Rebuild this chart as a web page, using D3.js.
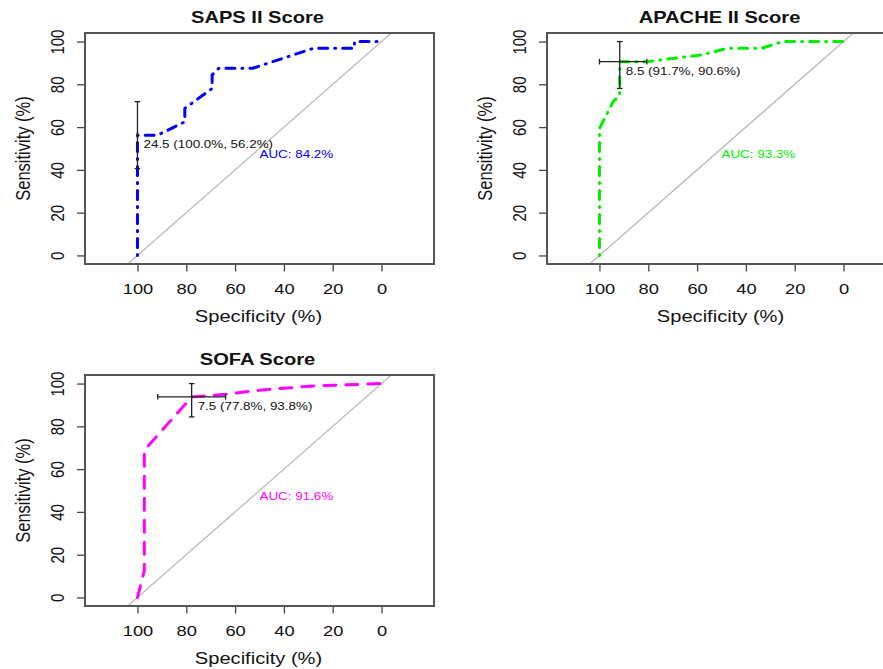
<!DOCTYPE html>
<html>
<head>
<meta charset="utf-8">
<script src="https://cdn.jsdelivr.net/npm/d3@7"></script>
<style>
  body { margin: 0; background: #fff; }
  svg text { font-family: "Liberation Sans", Arial, Helvetica, sans-serif; fill: #111; }
</style>
</head>
<body>
<svg id="chart" width="883" height="669"></svg>
<script>
// ROC panels, values (specificity %, sensitivity %)
const titles = ["SAPS II Score", "APACHE II Score", "SOFA Score"];
const specTicks = [100, 80, 60, 40, 20, 0];
const sensTicks = [0, 20, 40, 60, 80, 100];

const sapsRoc = [[100, 0], [100, 56.25], [91.7, 56.25], [80.6, 62.5], [80.6, 68.75],
  [69.4, 78.1], [69.4, 84.4], [66.7, 87.5], [52.8, 87.5], [27.8, 96.9],
  [11.1, 96.9], [11.1, 100], [0, 100]];
const apacheRoc = [[100, 0], [100, 59.4], [97.2, 65.6], [94.4, 71.9], [91.7, 75],
  [91.7, 90.6], [80.6, 90.6], [58.3, 93.75], [47.2, 96.9], [33.3, 96.9],
  [25, 100], [0, 100]];
const sofaRoc = [[100, 0], [97.2, 12.5], [97.2, 68.75], [77.8, 93.75], [63.9, 95],
  [50, 96.9], [27.8, 98.9], [0, 100]];

const thresholds = [24.5, 8.5, 7.5];
const thrSpec = [100.0, 91.7, 77.8];
const thrSens = [56.2, 90.6, 93.8];
const specCI = [[100, 100], [80.6, 100], [63.9, 91.7]];
const sensCI = [[40.6, 71.9], [78.1, 100], [84.4, 100]];
const aucs = [84.2, 93.3, 91.6];

// styles
const colors = ["#0000ff", "#00ee00", "#ff00ff"];
const dashes = ["1,7,9,7", "1,7,9,7", "12,10"];
const stretch = 1.22; // the picture is a little wider than tall

const svg = d3.select("#chart");
const W = 349, H = 231;
const origins = [[85, 33], [547, 33], [85, 375]];

const x = d3.scaleLinear().domain([121.5, -21.5]).range([0, W]);
const y = d3.scaleLinear().domain([-4, 104]).range([H, 0]);

function stretched(sel, tx, ty, rot) {
  return sel.attr("transform", `translate(${tx},${ty}) scale(${stretch},1)` + (rot ? ` rotate(${rot})` : ""));
}

const rocs = [sapsRoc, apacheRoc, sofaRoc];

rocs.forEach((roc, i) => {
  const g = svg.append("g").attr("transform", `translate(${origins[i][0]},${origins[i][1]})`);

  // diagonal chance line
  const yd = y.domain();
  g.append("line")
    .attr("x1", x(100 - yd[0])).attr("y1", y(yd[0]))
    .attr("x2", x(100 - yd[1])).attr("y2", y(yd[1]))
    .attr("stroke", "#bdbdbd").attr("stroke-width", 1.4);

  // axes
  const xa = g.append("g").attr("transform", `translate(0,${H})`)
    .call(d3.axisBottom(x).tickValues(specTicks).tickSize(7.5).tickFormat(d3.format("d")));
  const ya = g.append("g")
    .call(d3.axisLeft(y).tickValues(sensTicks).tickSize(8).tickFormat(d3.format("d")));
  [xa, ya].forEach(a => {
    a.select(".domain").remove();
    a.selectAll(".tick line").attr("stroke", "#444").attr("stroke-width", 1.3);
    a.selectAll(".tick text").attr("font-size", 15).attr("fill", "#111")
      .attr("font-family", "Liberation Sans, Arial, sans-serif");
  });
  xa.selectAll(".tick text").attr("x", 0).attr("y", 0).attr("dy", 0)
    .attr("text-anchor", "middle")
    .attr("transform", `translate(0,29.5) scale(${stretch},1)`);
  ya.selectAll(".tick text").attr("x", 0).attr("y", 0).attr("dy", 0)
    .attr("text-anchor", "middle")
    .attr("transform", `translate(-21.5,0) scale(${stretch},1) rotate(-90)`);

  // box
  g.append("rect").attr("width", W).attr("height", H)
    .attr("fill", "none").attr("stroke", "#555").attr("stroke-width", 2);

  // ROC curve
  g.append("path").datum(roc)
    .attr("d", d3.line().x(d => x(d[0])).y(d => y(d[1])))
    .attr("fill", "none").attr("stroke", colors[i]).attr("stroke-width", 3)
    .attr("stroke-dasharray", dashes[i]).attr("stroke-linecap", "round")
    .attr("stroke-linejoin", "round");

  // threshold CI cross
  const cx = x(thrSpec[i]), cy = y(thrSens[i]), cap = 2.8;
  const ci = g.append("g").attr("stroke", "#222").attr("stroke-width", 1.3);
  ci.append("line").attr("x1", cx).attr("x2", cx).attr("y1", y(sensCI[i][0])).attr("y2", y(sensCI[i][1]));
  sensCI[i].forEach(v => ci.append("line").attr("x1", cx - cap).attr("x2", cx + cap).attr("y1", y(v)).attr("y2", y(v)));
  ci.append("line").attr("y1", cy).attr("y2", cy).attr("x1", x(specCI[i][0])).attr("x2", x(specCI[i][1]));
  specCI[i].forEach(v => ci.append("line").attr("y1", cy - cap).attr("y2", cy + cap).attr("x1", x(v)).attr("x2", x(v)));

  stretched(g.append("text"), cx + 6, cy + 13)
    .attr("font-size", 11).attr("fill", "#333")
    .text(`${thresholds[i]} (${thrSpec[i].toFixed(1)}%, ${thrSens[i].toFixed(1)}%)`);

  stretched(g.append("text"), x(50), y(50) + 9.5)
    .attr("font-size", 11).style("fill", colors[i])
    .text(`AUC: ${aucs[i].toFixed(1)}%`);

  // titles and axis labels
  stretched(g.append("text"), W / 2 - 2, -10)
    .attr("text-anchor", "middle").attr("font-size", 16.5).attr("font-weight", "bold")
    .text(titles[i]);
  stretched(g.append("text"), W / 2 - 1, H + 57.5)
    .attr("text-anchor", "middle").attr("font-size", 16.5)
    .text("Specificity (%)");
  stretched(g.append("text"), -55, H / 2, -90)
    .attr("text-anchor", "middle").attr("font-size", 16.5)
    .text("Sensitivity (%)");
});
</script>
</body>
</html>
